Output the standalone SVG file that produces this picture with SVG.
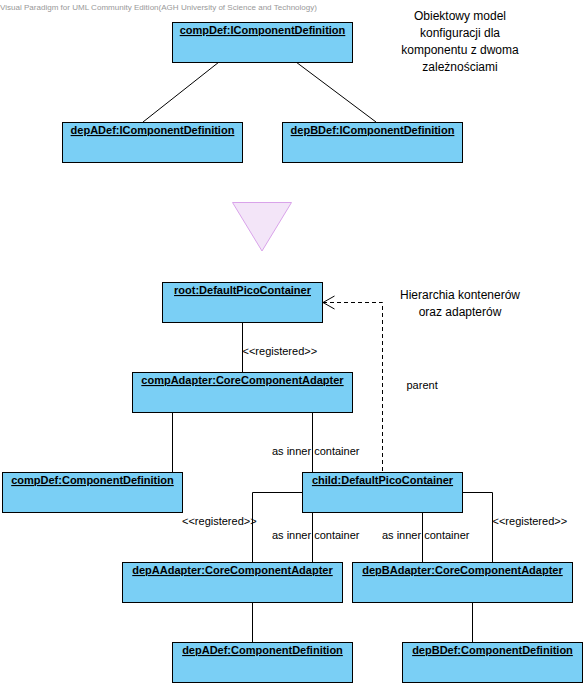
<svg xmlns="http://www.w3.org/2000/svg" width="586" height="686" viewBox="0 0 586 686">
<style>
.box{fill:#7acff5;stroke:#000;stroke-width:1}
.title{font-family:"Liberation Sans",Arial,sans-serif;font-size:11px;font-weight:bold;text-anchor:middle;text-decoration:underline;fill:#000}
.lbl{font-family:"Liberation Sans",Arial,sans-serif;font-size:11px;fill:#000}
.note{font-family:"Liberation Sans",Arial,sans-serif;font-size:12px;fill:#000;text-anchor:middle}
.conn{fill:none;stroke:#000;stroke-width:1}
.dash{fill:none;stroke:#000;stroke-width:1;stroke-dasharray:4,3}
</style>
<rect width="586" height="686" fill="#fff"/>
<text x="0" y="10" font-family="Liberation Sans,Arial,sans-serif" font-size="8" fill="#999" textLength="317" lengthAdjust="spacingAndGlyphs">Visual Paradigm for UML Community Edition(AGH University of Science and Technology)</text>
<g id="note1">
<text class="note" x="460" y="20">Obiektowy model</text>
<text class="note" x="460" y="37">konfiguracji dla</text>
<text class="note" x="460" y="54">komponentu z dwoma</text>
<text class="note" x="460" y="71">zależnościami</text>
</g>
<g id="note2">
<text class="note" x="460" y="299">Hierarchia kontenerów</text>
<text class="note" x="460" y="316">oraz adapterów</text>
</g>
<g id="transform-arrow">
<polygon points="232.5,202.5 291.5,202.5 262,251" fill="#f3e5f8" stroke="#d9a3ea" stroke-width="1"/>
</g>
<g id="connectors">
<line class="conn" x1="219" y1="62" x2="143" y2="122"/>
<line class="conn" x1="296" y1="62" x2="376" y2="122"/>
<line class="conn" x1="242.5" y1="322" x2="242.5" y2="372"/>
<line class="conn" x1="172.5" y1="412" x2="172.5" y2="472"/>
<line class="conn" x1="312.5" y1="412" x2="312.5" y2="472"/>
<polyline class="conn" points="302,492.5 252.5,492.5 252.5,562"/>
<line class="conn" x1="312.5" y1="512" x2="312.5" y2="562"/>
<line class="conn" x1="422.5" y1="512" x2="422.5" y2="562"/>
<polyline class="conn" points="462,492.5 492.5,492.5 492.5,562"/>
<line class="conn" x1="252.5" y1="602" x2="252.5" y2="642"/>
<line class="conn" x1="472.5" y1="602" x2="472.5" y2="642"/>
<polyline class="dash" points="323,302.5 382.5,302.5 382.5,472"/>
<polyline class="conn" points="334.5,296 323,302.5 334.5,309"/>
<text class="lbl" x="242.5" y="355">&lt;&lt;registered&gt;&gt;</text>
<text class="lbl" x="406.5" y="389">parent</text>
<text class="lbl" x="272" y="455">as inner container</text>
<text class="lbl" x="182" y="525">&lt;&lt;registered&gt;&gt;</text>
<text class="lbl" x="272" y="539">as inner container</text>
<text class="lbl" x="382" y="539">as inner container</text>
<text class="lbl" x="492.5" y="525">&lt;&lt;registered&gt;&gt;</text>
</g>
<g id="compDefI"><rect class="box" x="172.5" y="22.5" width="180" height="40"/><text class="title" x="262.5" y="34">compDef:IComponentDefinition</text></g>
<g id="depADefI"><rect class="box" x="62.5" y="122.5" width="180" height="40"/><text class="title" x="152.5" y="134">depADef:IComponentDefinition</text></g>
<g id="depBDefI"><rect class="box" x="282.5" y="122.5" width="180" height="40"/><text class="title" x="372.5" y="134">depBDef:IComponentDefinition</text></g>
<g id="root"><rect class="box" x="162.5" y="282.5" width="160" height="40"/><text class="title" x="242.5" y="294">root:DefaultPicoContainer</text></g>
<g id="compAdapter"><rect class="box" x="132.5" y="372.5" width="220" height="40"/><text class="title" x="242.5" y="384">compAdapter:CoreComponentAdapter</text></g>
<g id="compDef"><rect class="box" x="2.5" y="472.5" width="180" height="40"/><text class="title" x="92.5" y="484">compDef:ComponentDefinition</text></g>
<g id="child"><rect class="box" x="302.5" y="472.5" width="160" height="40"/><text class="title" x="382.5" y="484">child:DefaultPicoContainer</text></g>
<g id="depAAdapter"><rect class="box" x="122.5" y="562.5" width="220" height="40"/><text class="title" x="232.5" y="574">depAAdapter:CoreComponentAdapter</text></g>
<g id="depBAdapter"><rect class="box" x="352.5" y="562.5" width="220" height="40"/><text class="title" x="462.5" y="574">depBAdapter:CoreComponentAdapter</text></g>
<g id="depADef"><rect class="box" x="172.5" y="642.5" width="180" height="40"/><text class="title" x="262.5" y="654">depADef:ComponentDefinition</text></g>
<g id="depBDef"><rect class="box" x="402.5" y="642.5" width="180" height="40"/><text class="title" x="492.5" y="654">depBDef:ComponentDefinition</text></g>
</svg>
